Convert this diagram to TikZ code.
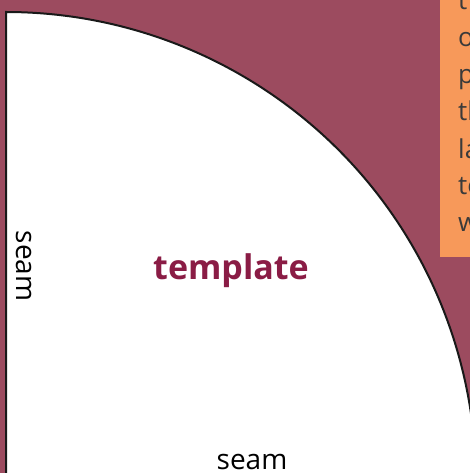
\documentclass[tikz,border=0pt]{standalone}
\usepackage{fontspec}
\setmainfont{Open Sans}
\definecolor{maroonbg}{HTML}{9C4B5F}
\definecolor{orangebox}{HTML}{F7995A}
\definecolor{tpltext}{HTML}{8A1C45}
\definecolor{boxtext}{HTML}{3A3A3A}
\begin{document}
\begin{tikzpicture}[x=1pt,y=-1pt,
  seamlabel/.style={inner sep=0pt, font=\fontsize{28}{30}\selectfont, text=black},
  boxline/.style={inner sep=0pt, anchor=base west, font=\fontsize{26}{30}\selectfont, text=boxtext}]
\useasboundingbox (0,0) rectangle (470,473);
\clip (0,0) rectangle (470,473);
\fill[maroonbg] (0,0) rectangle (470,473);
% quarter-circle template
\filldraw[fill=white, draw=black!90, line width=2pt]
  (6,490) -- (6,12) arc[start angle=-90, end angle=2, radius=470] -- cycle;
% orange note box
\fill[orangebox] (440,-5) rectangle (475,257);
\node[boxline] (l1) at (458,10) {t};
\node[boxline] (l2) at (458,47) {o};
\node[boxline] (l3) at (458,84) {p};
\node[boxline] (l4) at (458,121) {th};
\node[boxline] (l5) at (458,158) {la};
\node[boxline] (l6) at (458,194) {te};
\node[boxline] (l7) at (458,231) {w};
% labels
\node[inner sep=0pt, anchor=base, font=\fontsize{34}{36}\selectfont\bfseries, text=tpltext] (tpl) at (231,279) {template};
\node[seamlabel, rotate=-90] (seamL) at (24,266) {seam};
\node[seamlabel, anchor=base] (seamB) at (252,469) {seam};
\end{tikzpicture}
\end{document}
